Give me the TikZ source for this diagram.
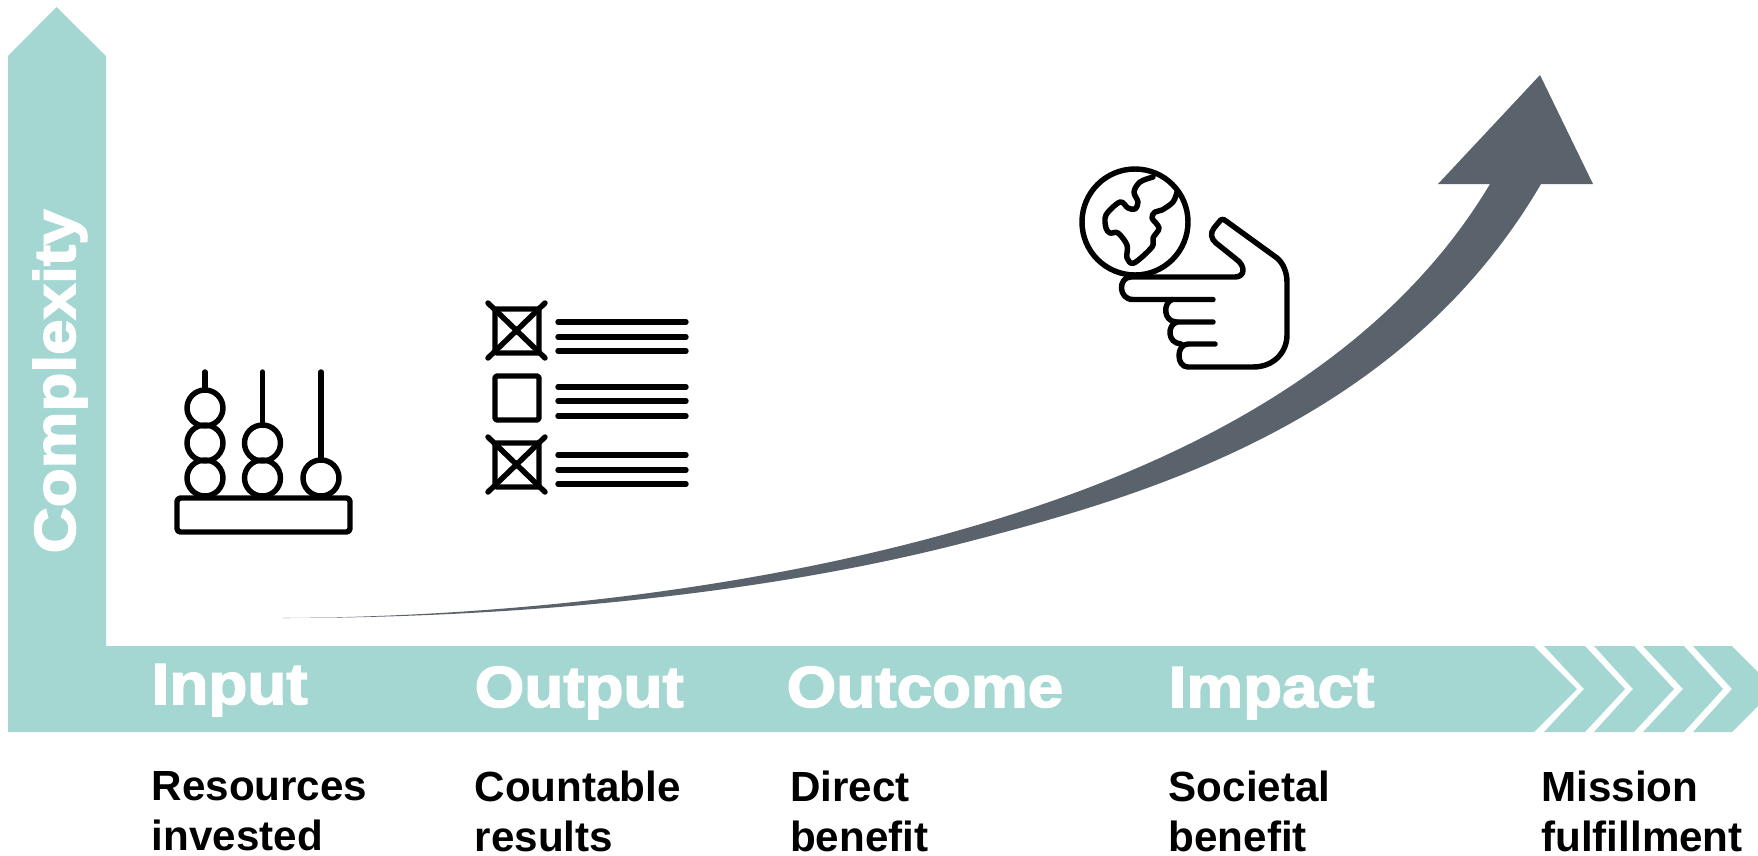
\documentclass[tikz,border=0pt]{standalone}
\usepackage{fontspec}
\setmainfont{Liberation Sans}
\newfontfamily\headfont[FakeStretch=1.1,FakeBold=2.6]{Liberation Sans Bold}
\usepackage{xcolor}
\usepackage{tikz}
\usetikzlibrary{positioning}
\definecolor{barteal}{HTML}{A5D7D2}
\definecolor{swooshgray}{HTML}{5A636B}

\begin{document}
\begin{tikzpicture}[x=0.1mm, y=-0.1mm,
        barfill/.style={fill=barteal, draw=none},
        iconline/.style={draw=black, line width=1.55pt, line cap=round, line join=round},
        headtext/.style={text=white, inner sep=0pt, anchor=base west, font=\headfont\fontsize{16.5}{18}\selectfont},
        subtext/.style={text=black, inner sep=0pt, align=left, font=\bfseries\fontsize{12}{14.2}\selectfont}]
    \useasboundingbox (0,0) rectangle (1758,856);

    \fill[barfill] (8,732) -- (8,56) -- (56.5,7) -- (106,56) -- (106,646) -- (1534,646) -- (1577,689) -- (1534,732) -- cycle;
    \fill[barfill] (1544,646) -- (1585,646) -- (1625,689) -- (1585,732) -- (1544,732) -- (1584,689) -- cycle;
    \fill[barfill] (1594,646) -- (1634,646) -- (1674,689) -- (1634,732) -- (1594,732) -- (1633,689) -- cycle;
    \fill[barfill] (1643,646) -- (1684,646) -- (1723,689) -- (1684,732) -- (1643,732) -- (1683,689) -- cycle;
    \fill[barfill] (1693,646) -- (1732,646) -- (1758,672) -- (1758,706) -- (1732,732) -- (1693,732) -- (1732,689) -- cycle;

    \fill[swooshgray] (282,618) .. controls (520,617) and (767,586) .. (967,528) .. controls (1137,479) and (1370,385) .. (1490,184) -- (1438,184) -- (1540,75) -- (1593,184) -- (1541,184) .. controls (1400,425) and (1140,497) .. (967,542) .. controls (767,594) and (520,618) .. (282,618) -- cycle;

    \node[headtext, rotate=90] (complexity) at (75,554) {Complexity};
    \node[headtext] (input) at (151,704) {Input};
    \node[headtext] (output) at (474,707) {Output};
    \node[headtext] (outcome) at (786,707) {Outcome};
    \node[headtext] (impact) at (1168,707) {Impact};

    \node[subtext, below=19pt of input.base west, anchor=north west] (resources) {Resources\\invested};
    \node[subtext, below=18pt of output.base west, anchor=north west] (countable) {Countable\\results};
    \node[subtext, below=18pt of outcome.base west, anchor=north west, xshift=1pt] (direct) {Direct\\benefit};
    \node[subtext, below=18pt of impact.base west, anchor=north west] (societal) {Societal\\benefit};
    \node[subtext, right=106pt of societal.west, anchor=west] (mission) {Mission\\fulfillment};

    \draw[iconline] (205,372) -- (205,388);
    \draw[iconline] (262.5,372) -- (262.5,423);
    \draw[iconline] (321,372) -- (321,458);
    \draw[iconline] (205,408) circle (18);
    \draw[iconline] (205,443) circle (18);
    \draw[iconline] (205,478) circle (18);
    \draw[iconline] (262.5,443) circle (18);
    \draw[iconline] (262.5,478) circle (18);
    \draw[iconline] (321,478) circle (18);
    \draw[iconline, rounded corners=1pt] (177,498) rectangle (350,532);

    \draw[iconline, rounded corners=0.5pt] (495,309) rectangle (539,353);
    \draw[iconline] (488,303) -- (545,358) (545,303) -- (488,358);
    \draw[iconline, rounded corners=0.5pt] (495,376) rectangle (539,420);
    \draw[iconline, rounded corners=0.5pt] (495,443) rectangle (539,487);
    \draw[iconline] (488,437) -- (545,492) (545,437) -- (488,492);
    \draw[iconline] (558,322) -- (686,322) (558,337) -- (686,337) (558,351) -- (686,351);
    \draw[iconline] (558,387) -- (686,387) (558,401) -- (686,401) (558,416) -- (686,416);
    \draw[iconline] (558,455) -- (686,455) (558,470) -- (686,470) (558,484) -- (686,484);

    \draw[iconline] (1135,222) circle (53);
    \draw[iconline] plot[smooth, tension=0.55] coordinates {(1153,177) (1140,182) (1134,192) (1138,202) (1135,209) (1128,208) (1120,202) (1106,215) (1106,228) (1110,233) (1118,233) (1127,245) (1127,258) (1134,263) (1152,247) (1153,238) (1159,228) (1152,218) (1155,212) (1162,210) (1173,202) (1177,192)};

    \draw[iconline] (1215,344) -- (1188,344) .. controls (1176,344) and (1176,367) .. (1188,367) -- (1253,367) .. controls (1274,367) and (1287,352) .. (1287,335) -- (1287,282) .. controls (1287,272) and (1283,263) .. (1277,258) -- (1226,221) .. controls (1223,218.5) and (1221,219) .. (1219,222) -- (1214,228) .. controls (1210,233) and (1211,239) .. (1216,243) -- (1236,259) .. controls (1246,266) and (1245,277) .. (1235,277) -- (1131,277) .. controls (1118,277) and (1118,299.5) .. (1133,299.5) -- (1213,299.5);
    \draw[iconline] (1172,299.5) .. controls (1163,303) and (1163,321) .. (1176,322) -- (1213,322);
    \draw[iconline] (1177,322) .. controls (1167,325) and (1167,343) .. (1181,344);
\end{tikzpicture}
\end{document}
